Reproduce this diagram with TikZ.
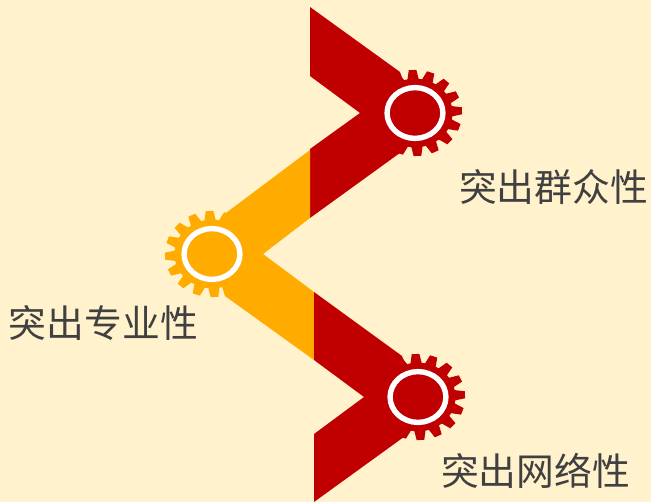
\documentclass[tikz,border=0pt]{standalone}
\usepackage{fontspec}
\newfontfamily\cjk{Noto Sans CJK SC}
\definecolor{bgc}{HTML}{FFF2CC}
\definecolor{redc}{HTML}{C00000}
\definecolor{orangec}{HTML}{FFAB00}
\definecolor{textc}{HTML}{404040}
\tikzset{
  label text/.style={font=\cjk\fontsize{37.8}{40}\selectfont, text=textc, inner sep=0pt},
  ring/.style={draw=white, line width=5.4pt},
}
\newcommand{\gearshape}[3]{%
  \begin{scope}[shift={(#1,#2)}]
    \begin{scope}[yscale=0.915]
      \fill[#3] (0,0) circle[radius=37.5];
      \foreach \a in {0,22.5,...,337.5}
        \fill[#3, rotate=\a+3] (36,-5.8) -- (47,-3.8) -- (47,3.8) -- (36,5.8) -- cycle;
    \end{scope}
    \draw[ring] (0,0) circle[x radius=27.9, y radius=25.4];
  \end{scope}}
\begin{document}
\begin{tikzpicture}[x=1pt,y=-1pt]
\useasboundingbox (0,0) rectangle (651,502);
\fill[bgc] (0,0) rectangle (651,502);
% top red chevron
\fill[redc] (310,7) -- (400,72) -- (415,113) -- (404,150) -- (310,218) -- (310,149) -- (360,113) -- (310,76) -- cycle;
% orange chevron
\fill[orangec] (310,150) -- (222,216) -- (212,254) -- (225,296) -- (314,360) -- (314,292) -- (263,254) -- (310,218) -- cycle;
% bottom red chevron
\fill[redc] (314,292) -- (402,356) -- (418,397) -- (408,434) -- (314,502) -- (314,434) -- (364,397) -- (314,360) -- cycle;
\gearshape{415}{113}{redc}
\gearshape{212}{254}{orangec}
\gearshape{418}{397}{redc}
\node[label text] (t1) at (553.5,187) {突出群众性};
\node[label text] (t2) at (103.5,323) {突出专业性};
\node[label text] (t3) at (535.5,471) {突出网络性};
\end{tikzpicture}
\end{document}
